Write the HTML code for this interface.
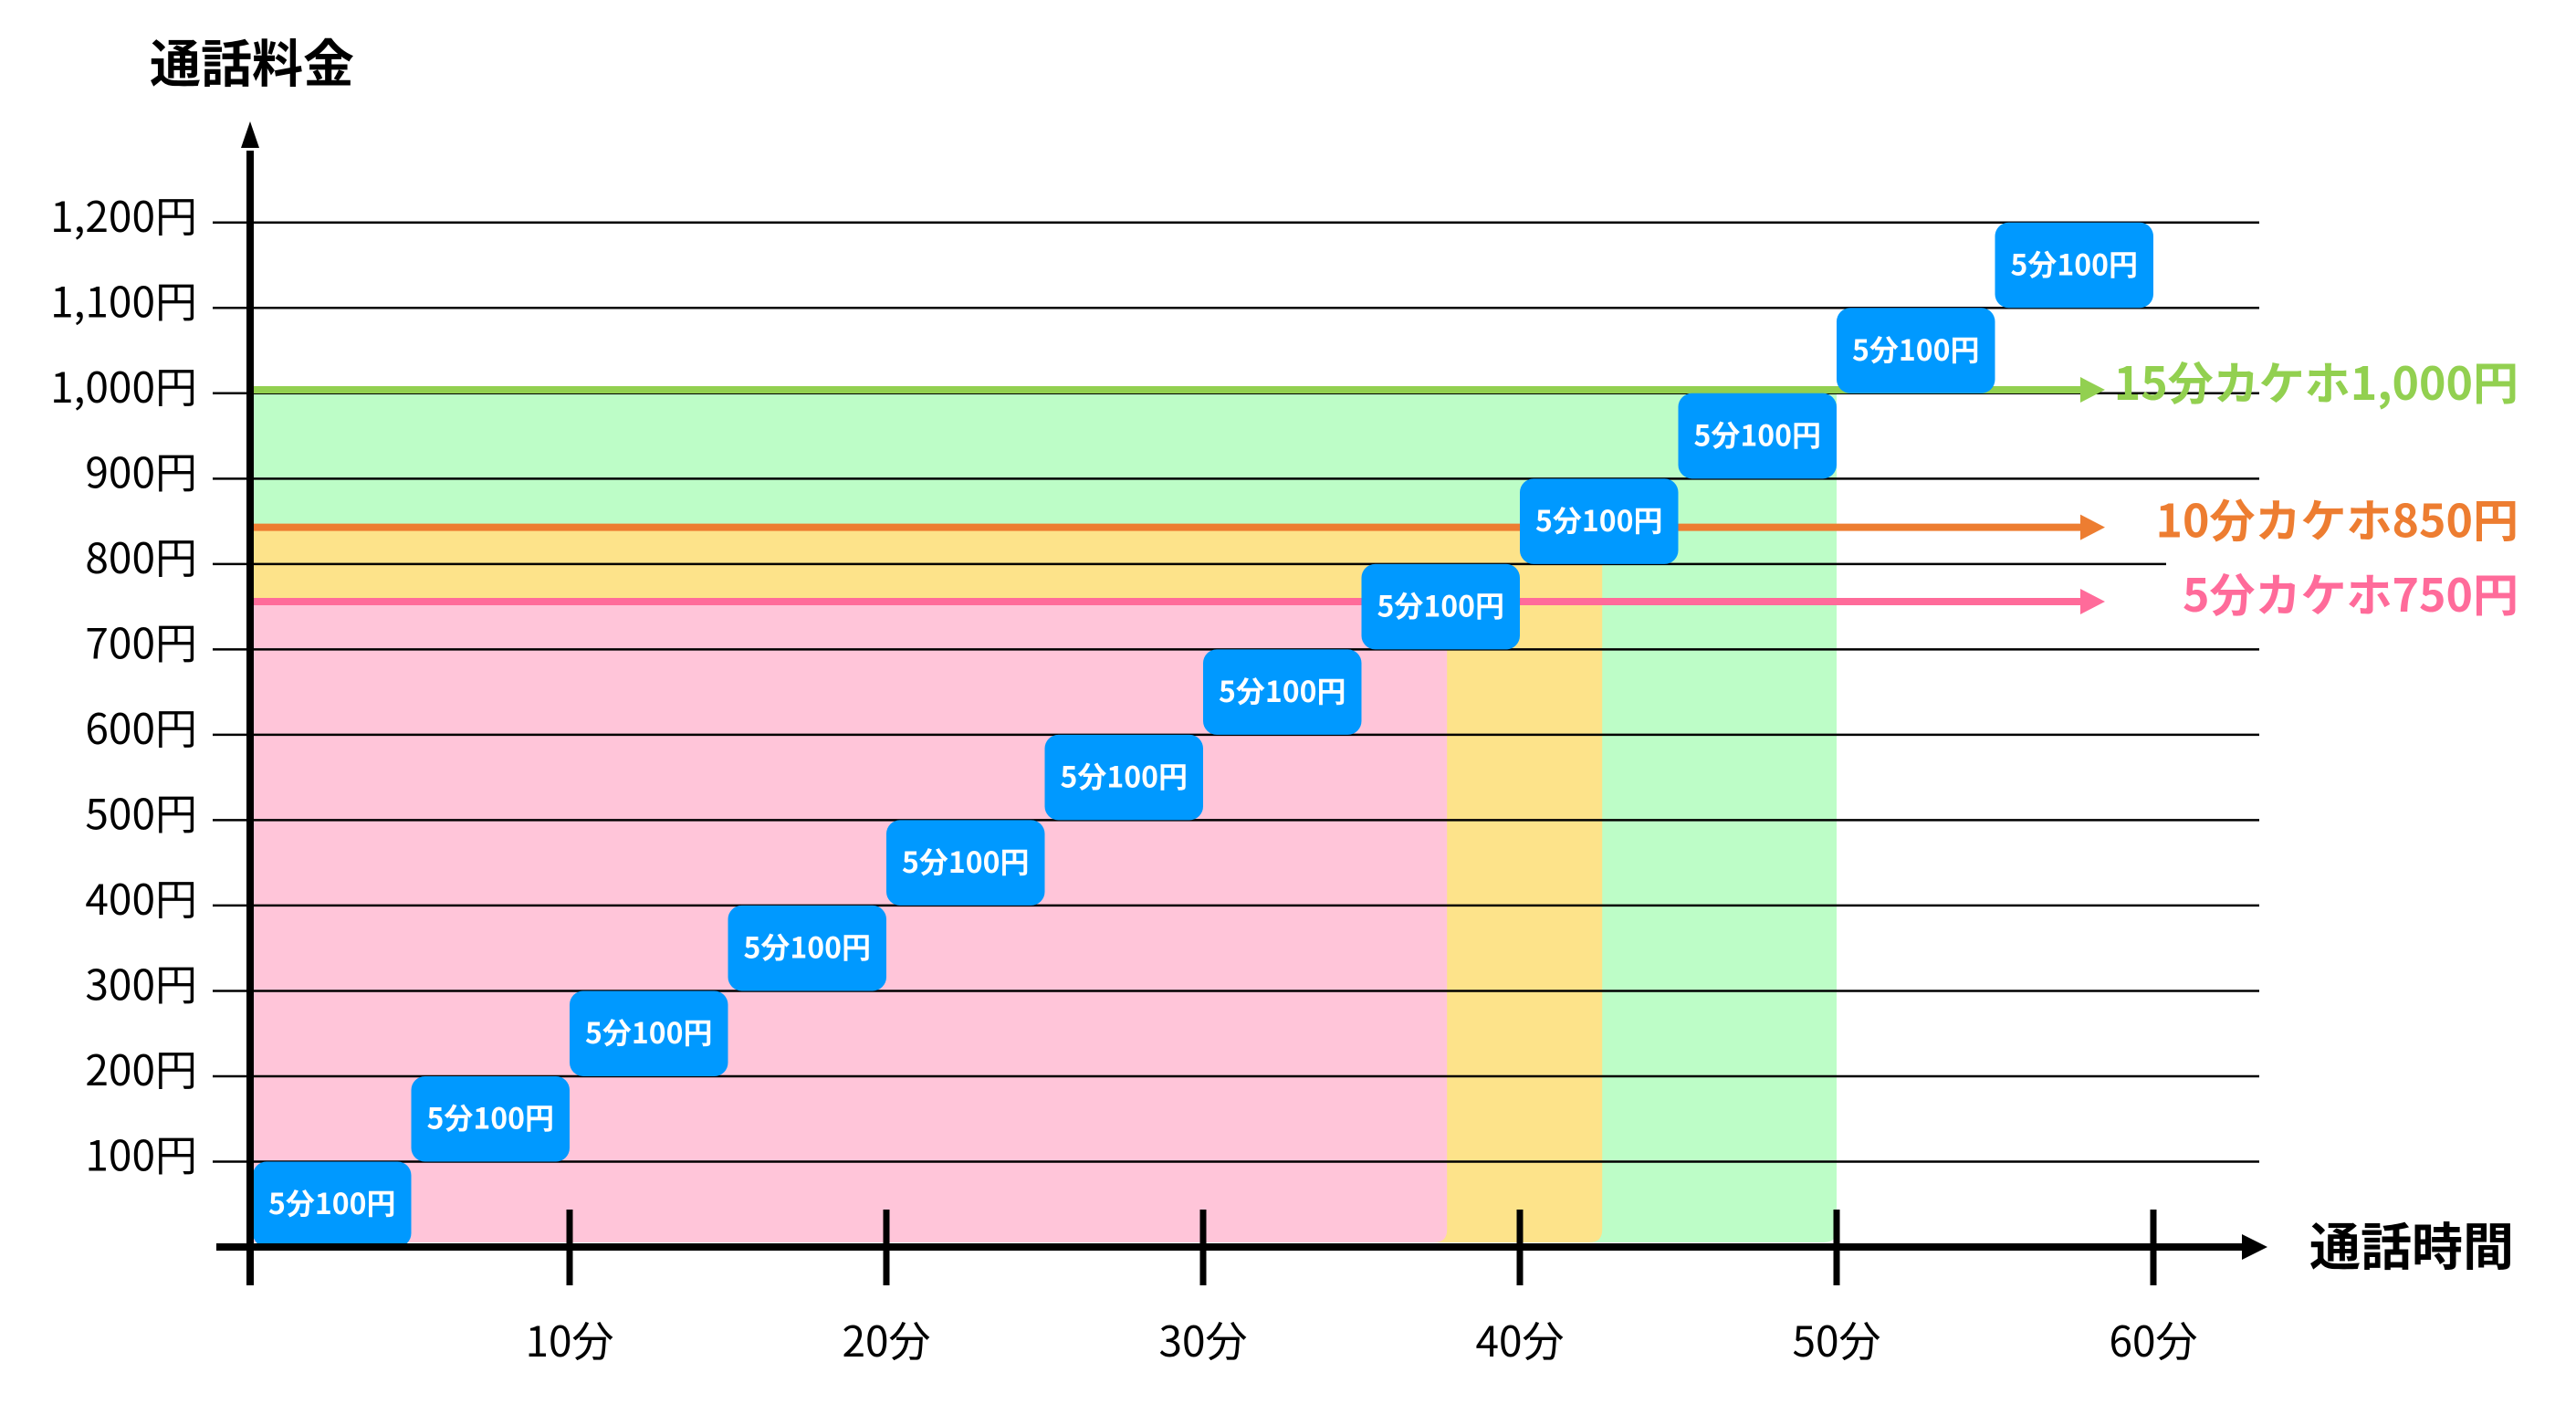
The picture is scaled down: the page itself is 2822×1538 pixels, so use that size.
<!DOCTYPE html>
<html><head><meta charset="utf-8">
<style>
html,body{margin:0;padding:0;background:#fff;}
svg{display:block;}
text{font-family:"Liberation Sans","Noto Sans CJK JP",sans-serif;}
</style></head>
<body>
<svg id="chart" width="2822" height="1538" viewBox="0 0 2822 1538" xmlns="http://www.w3.org/2000/svg">
<text x="164" y="90" font-size="56" font-weight="bold" fill="#000" style='font-family:"Noto Sans CJK JP",sans-serif'>通話料金</text>
<text x="2530" y="1386" font-size="56" font-weight="bold" fill="#000" style='font-family:"Noto Sans CJK JP",sans-serif'>通話時間</text>
<g id="regions"></g>
<g id="grid"></g>
<g id="plans"></g>
<g id="steps"></g>
<g id="axes"></g>
</svg>
<script>
const yTickValues = [100,200,300,400,500,600,700,800,900,1000,1100,1200];
const yTickLabels = ["100円","200円","300円","400円","500円","600円","700円","800円","900円","1,000円","1,100円","1,200円"];
const xTickValues = [10,20,30,40,50,60];
const xTickLabels = ["10分","20分","30分","40分","50分","60分"];
const planNames = ["5分カケホ750円","10分カケホ850円","15分カケホ1,000円"];
const planPrices = [756,843,1004];
const planBreakEvenMinutes = [37.7,42.6,50];
const stepStartMinutes = [0,5,10,15,20,25,30,35,40,45,50,55];
const stepCosts = [100,200,300,400,500,600,700,800,900,1000,1100,1200];
const stepLabel = "5分100円";

const NS="http://www.w3.org/2000/svg";
const X0=277, XS=34.7, Y0=1366, YS=0.9352;
function x(t){return X0+t*XS;}
function y(v){return Y0-v*YS;}
function mk(tag,attrs,parent){const e=document.createElementNS(NS,tag);for(const k in attrs)e.setAttribute(k,attrs[k]);parent.appendChild(e);return e;}
const gR=document.getElementById('regions'),gG=document.getElementById('grid'),gP=document.getElementById('plans'),gS=document.getElementById('steps'),gA=document.getElementById('axes');

const fillColors=["#ffc5d9","#fde38a","#bdfdc7"];
const lineColors=["#ff6b9a","#ed7d31","#92d050"];
// regions: draw largest first
for(let i=planPrices.length-1;i>=0;i--){
  const x1=x(0), x2=x(planBreakEvenMinutes[i]), yt=y(planPrices[i]), yb=1361, r=14;
  const p=mk('path',{d:`M${x1} ${yt} H${x2} V${yb-r} Q${x2} ${yb} ${x2-r} ${yb} H${x1} Z`,fill:fillColors[i]},gR);
  
  
}
// grid
yTickValues.forEach((v,i)=>{
  const end = v===800 ? 2373 : 2475;
  const l=mk('line',{x1:233,x2:end,y1:y(v),y2:y(v),stroke:"#000","stroke-width":2.5},gG);
  
  
  const t=mk('text',{x:216,y:y(v)+10,"font-size":46,"text-anchor":"end",fill:"#000",style:'font-family:"Noto Sans CJK JP",sans-serif'},gG);
  t.textContent=yTickLabels[i];
  
  
});
// plan lines
planPrices.forEach((p,i)=>{
  const yy=y(p);
  const l=mk('line',{x1:276,x2:2282,y1:yy,y2:yy,stroke:lineColors[i],"stroke-width":8},gP);
  
  
  const a=mk('polygon',{points:`2279,${yy-14} 2306,${yy} 2279,${yy+14}`,fill:lineColors[i]},gP);
  
  
  const t=mk('text',{x:2759,y:yy+11,"font-size":50,"font-weight":"bold","text-anchor":"end",fill:lineColors[i],style:'font-family:"Noto Sans CJK JP",sans-serif'},gP);
  t.textContent=planNames[i];
  
  
});
// step boxes
stepStartMinutes.forEach((m,i)=>{
  const xa=x(m), xb=x(m+5), ya=y(stepCosts[i]), yb=y(stepCosts[i]-100);
  const r=mk('rect',{x:xa,y:ya,width:xb-xa,height:yb-ya,rx:15,fill:"#0099ff"},gS);
  
  
  const t=mk('text',{x:(xa+xb)/2,y:(ya+yb)/2+11,"font-size":32,"font-weight":"bold","text-anchor":"middle",fill:"#fff",style:'font-family:"Noto Sans CJK JP",sans-serif'},gS);
  t.textContent=stepLabel;
  
  
});
// axes
let e=mk('line',{x1:274,x2:274,y1:1408,y2:165,stroke:"#000","stroke-width":8},gA);


e=mk('polygon',{points:"274,133 264,162 284,162",fill:"#000"},gA);


e=mk('line',{x1:237,x2:2460,y1:1366,y2:1366,stroke:"#000","stroke-width":8},gA);


e=mk('polygon',{points:"2484,1366 2456,1352 2456,1380",fill:"#000"},gA);


xTickValues.forEach((v,i)=>{
  const l=mk('line',{x1:x(v),x2:x(v),y1:1325,y2:1408,stroke:"#000","stroke-width":7},gA);
  
  
  const t=mk('text',{x:x(v),y:1486,"font-size":46,"text-anchor":"middle",fill:"#000",style:'font-family:"Noto Sans CJK JP",sans-serif'},gA);
  t.textContent=xTickLabels[i];
  
  
});
</script>
</body></html>
